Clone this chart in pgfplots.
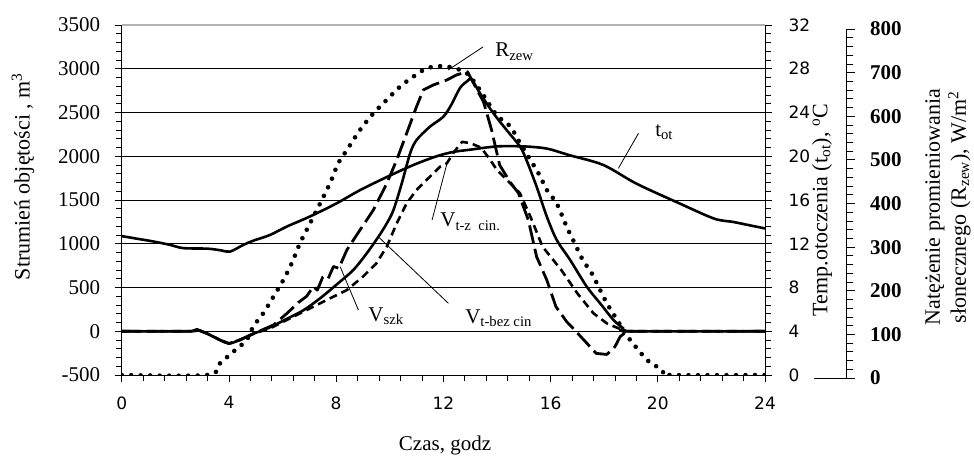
\documentclass[border=0pt]{standalone}
\usepackage{fontspec}
\setmainfont{Liberation Serif}
\newfontfamily\sansf{DejaVu Sans}
\usepackage{pgfplots}
\usepackage{pgfplotstable}
\pgfplotsset{compat=1.18}

\pgfplotstableread{
h V
0 0
2.6 0
2.8 20
3.17 -24
3.67 -100
4.0 -140
4.4 -100
4.9 -30
5.53 45
6.15 140
6.78 240
7.4 376
8.0 529
8.64 700
9.14 890
9.58 1081
9.89 1233
10.14 1386
10.45 1691
10.76 2033
11.0 2185
11.5 2338
12.0 2452
12.3 2590
12.62 2780
12.9 2860
13.05 2880
13.37 2719
13.87 2490
14.36 2300
14.86 2110
15.1 1957
15.48 1652
15.86 1310
16.23 1043
16.73 815
17.35 510
17.85 319
18.35 128
18.72 33
18.97 0
24 0
}\bez

\pgfplotstableread{
h V
0 0
2.6 0
2.8 20
3.17 -24
3.67 -100
4.0 -140
4.4 -100
4.9 -30
5.66 71
6.15 200
6.6 330
6.9 400
7.15 510
7.3 470
7.5 620
7.7 600
7.9 740
8.1 720
8.4 929
8.89 1157
9.39 1386
9.89 1690
10.26 1957
10.63 2262
11.0 2567
11.25 2757
11.63 2815
12.13 2872
12.5 2930
12.9 2967
13.1 2850
13.5 2620
13.8 2300
14.1 1900
14.5 1700
14.8 1580
15.17 1271
15.48 851
15.86 585
16.2 281
16.6 110
16.9 14
17.3 -119
17.7 -253
18.1 -265
18.4 -177
18.6 -60
18.85 0
24 0
}\szk

\pgfplotstableread{
h V
0 0
2.6 0
2.8 20
3.17 -24
3.67 -100
4.0 -140
4.4 -100
4.9 -30
5.53 33
6.15 128
6.9 243
7.65 357
8.4 471
9.0 624
9.5 776
9.89 967
10.26 1233
10.63 1462
11.0 1614
11.5 1767
11.88 1881
12.13 1919
12.4 2050
12.7 2165
13.0 2150
13.4 2100
13.7 1980
14.0 1843
14.5 1690
14.86 1576
15.25 1309
15.7 967
16.4 700
17.0 433
17.6 205
18.1 90
18.6 25
18.85 0
24 0
}\tz

\pgfplotstableread{
h t
0 12.7
0.6 12.45
1.2 12.2
1.8 11.9
2.3 11.6
3.2 11.55
3.7 11.4
4.04 11.28
4.54 11.9
4.91 12.28
5.53 12.8
6.15 13.56
7.03 14.5
8.02 15.7
8.89 16.9
9.89 18.1
10.88 19.2
11.75 20.0
12.38 20.4
13.0 20.6
14.0 20.9
15.0 20.9
15.86 20.7
16.7 20.1
17.97 19.2
19.2 17.5
20.8 15.7
22.1 14.3
22.8 14.0
23.4 13.7
24 13.4
}\tot

\pgfplotstableread{
h R
0 0
3.2 0
3.67 27
4.16 53
4.66 80
4.91 111
5.28 141
5.66 179
6.03 217
6.34 255
6.65 301
7.03 347
7.4 392
7.77 438
8.08 484
8.4 514
8.89 560
9.39 598
9.89 629
10.38 659
10.88 682
11.38 701
11.88 706
12.3 703
12.87 690
13.37 651
13.99 594
14.5 568
14.86 530
15.55 461
15.86 423
16.23 392
16.6 339
16.9 301
17.2 263
17.54 232
17.85 194
18.1 164
18.41 133
18.72 103
18.97 80
19.28 57
19.6 34
19.97 19
20.2 8
20.46 0
24 0
}\rad

\begin{document}
\begin{tikzpicture}
\pgfplotsset{
  common/.style={
    at={(0pt,0pt)}, anchor=south west,
    scale only axis, width=643.3pt, height=350pt,
    xmin=0, xmax=24,
    axis line style={-, line width=1pt},
    tick align=outside,
    major tick length=7pt, minor tick length=6pt,
    tick style={black, line width=0.8pt},
  }
}
% main axis: volume flow
\begin{axis}[common,
  ymin=-500, ymax=3500,
  axis x line*=bottom, axis y line*=left,
  xtick={0,4,...,24}, xticklabels={0,4,8,12,16,20,24},
  minor x tick num=4,
  ytick={-500,0,...,3500},
  yticklabels={-500,0,500,1000,1500,2000,2500,3000,3500},
  minor y tick num=4,
  ymajorgrids, grid style={black, line width=0.8pt},
  xticklabel style={font=\sansf\fontsize{17}{17}\selectfont, yshift=-11pt},
  yticklabel style={font=\fontsize{21}{21}\selectfont, xshift=-11pt},
  clip=false,
]
\draw[gray!60, line width=1.6pt] (rel axis cs:0,1) -- (rel axis cs:1,1);
\addplot[black, line width=2.6pt, line join=round, smooth] table[x=h,y=V] {\bez};
\addplot[black, line width=2.8pt, line join=round, dash pattern=on 18pt off 6pt] table[x=h,y=V] {\szk};
\addplot[black, line width=2.6pt, line join=round, dash pattern=on 8pt off 5pt] table[x=h,y=V] {\tz};
% annotations
\begin{scope}[font=\fontsize{21}{21}\selectfont]
\draw[line width=0.8pt] (axis cs:13.48,3249) -- (axis cs:12.18,2986);
\node[anchor=base west, inner sep=0pt] at (axis cs:13.93,3135) {R\textsubscript{zew}};
\draw[line width=0.8pt] (axis cs:19.28,2262) -- (axis cs:18.53,1862);
\node[anchor=base west, inner sep=0pt] at (axis cs:19.9,2224) {t\textsubscript{ot}};
\draw[line width=0.8pt] (axis cs:11.58,1272) -- (axis cs:12.14,1923);
\node[anchor=base west, inner sep=0pt] at (axis cs:11.88,1192) {V\textsubscript{t-z\ \ cin.}};
\draw[line width=0.8pt] (axis cs:9.57,1081) -- (axis cs:12.19,319);
\node[anchor=base west, inner sep=0pt] at (axis cs:12.81,94) {V\textsubscript{t-bez cin}};
\draw[line width=0.8pt] (axis cs:8.15,738) -- (axis cs:8.83,243);
\node[anchor=base west, inner sep=0pt] at (axis cs:9.2,109) {V\textsubscript{szk}};
\end{scope}
\end{axis}
% temperature axis
\begin{axis}[common,
  ymin=0, ymax=32,
  axis x line=none, axis y line*=right,
  ytick={0,4,...,32}, yticklabels={0,4,8,12,16,20,24,28,32},
  minor y tick num=4,
  yticklabel style={font=\sansf\fontsize{17}{17}\selectfont, xshift=13pt},
]
\addplot[black, line width=2.6pt, line join=round, smooth] table[x=h,y=t] {\tot};
\end{axis}
% radiation data
\begin{axis}[common, ymin=0, ymax=800, hide axis]
\addplot[black, line width=4.6pt, line cap=round, dash pattern=on 0pt off 9.5pt, smooth] table[x=h,y=R] {\rad};
\end{axis}
% radiation axis display
\begin{axis}[
  at={(692.3pt,-3pt)}, anchor=south west,
  scale only axis, width=32.7pt, height=349pt,
  xmin=0, xmax=1, ymin=0, ymax=800,
  axis x line*=bottom, axis y line*=right,
  axis line style={-, line width=1pt},
  xtick=\empty,
  ytick={0,100,...,800}, yticklabels={0,100,200,300,400,500,600,700,800},
  minor y tick num=4,
  tick align=outside,
  major tick length=8pt, minor tick length=6pt,
  tick style={black, line width=0.8pt},
  yticklabel style={font=\bfseries\fontsize{21}{21}\selectfont, xshift=12pt},
]
\end{axis}
% axis labels
\node[rotate=90, font=\fontsize{22}{22}\selectfont] at (-98.7pt,198.5pt) {Strumień objętości , m\textsuperscript{3}};
\node[font=\fontsize{21}{21}\selectfont] at (323.3pt,-70pt) {Czas, godz};
\node[rotate=90, font=\fontsize{22}{22}\selectfont] at (700.3pt,165pt) {Temp.otoczenia (t\textsubscript{ot}), \textsuperscript{o}C};
\node[rotate=90, align=center, font=\fontsize{22}{26}\selectfont] at (826.3pt,168pt) {Natężenie promieniowania\\słonecznego (R\textsubscript{zew}), W/m\textsuperscript{2}};
\pgfresetboundingbox
\path (-121.7pt,-84pt) rectangle (852.3pt,375pt);
\end{tikzpicture}
\end{document}
